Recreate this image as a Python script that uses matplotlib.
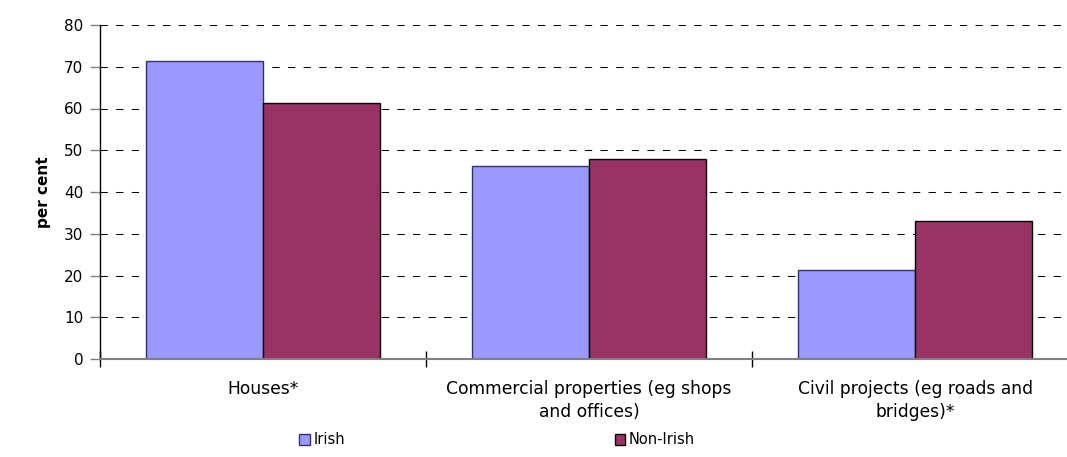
import matplotlib
matplotlib.use("Agg")
import matplotlib.pyplot as plt
import numpy as np

# Share of respondents by project type and nationality
categories = ["Houses*",
              "Commercial properties (eg shops\nand offices)",
              "Civil projects (eg roads and\nbridges)*"]
series_names = ["Irish", "Non-Irish"]
irish = [71.4, 46.2, 21.4]
non_irish = [61.3, 48.0, 33.1]
y_ticks = [0, 10, 20, 30, 40, 50, 60, 70, 80]

plt.rcParams['font.family'] = ['DejaVu Sans']
plt.rcParams['font.size'] = 10.5

W, H = 1067, 457
fig = plt.figure(figsize=(W / 100, H / 100), dpi=100)
# plot area runs slightly past the right edge of the canvas
ax = fig.add_axes([100 / W, 98 / H, 978 / W, 334 / H])

x = np.arange(len(categories)) + 0.5
bw = 0.36
ax.bar(x - bw / 2, irish, bw, color="#9999ff", edgecolor="#333366",
       linewidth=1.0, label=series_names[0], zorder=2)
ax.bar(x + bw / 2, non_irish, bw, color="#993366", edgecolor="#000000",
       linewidth=1.0, label=series_names[1], zorder=2)

ax.set_xlim(0, len(categories))
ax.set_ylim(0, 80)
ax.set_yticks(y_ticks)
ax.set_yticklabels([str(v) for v in y_ticks], fontsize=11)
ax.set_axisbelow(True)
ax.yaxis.grid(True, color="black", linewidth=0.75, linestyle=(0, (7, 8)))

# category labels centred, boundary ticks between groups
ax.set_xticks(x)
ax.set_xticklabels(categories, fontsize=12.3, linespacing=1.4)
ax.tick_params(axis="x", which="major", length=0, pad=15)
ax.set_xticks(np.arange(len(categories) + 1), minor=True)
ax.tick_params(axis="x", which="minor", direction="inout", length=12,
               width=1.0, color="black")
ax.tick_params(axis="y", direction="out", length=7, width=1.0,
               color="#808080", pad=5)

for s in ["top", "right"]:
    ax.spines[s].set_visible(False)
ax.spines["left"].set_color("black")
ax.spines["left"].set_linewidth(1.0)
ax.spines["bottom"].set_color("#808080")
ax.spines["bottom"].set_linewidth(1.5)

ax.set_ylabel("per cent", fontweight="bold", fontsize=11, labelpad=9)

handles, labels = ax.get_legend_handles_labels()
fig.legend(handles, labels, loc="center", bbox_to_anchor=(497 / W, 1 - 440 / H),
           ncol=2, frameon=False, handlelength=0.7, handleheight=0.7,
           handletextpad=0.25, columnspacing=18.5, borderpad=0)

fig.savefig("out.png", dpi=100)
